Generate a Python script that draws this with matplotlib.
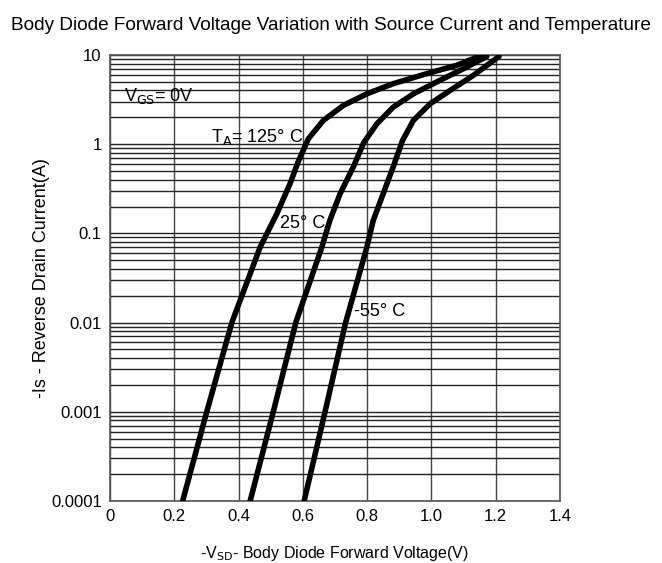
import numpy as np
import matplotlib.pyplot as plt
from matplotlib.ticker import FixedLocator, LogLocator, NullFormatter

plt.rcParams['font.family'] = ['Liberation Sans Narrow', 'Liberation Sans', 'DejaVu Sans']

# Curves: current (A) vs forward voltage (V)
i_125 = [0.0001, 0.001, 0.01, 0.07, 0.166, 0.36, 0.63, 1.15, 1.85, 2.72, 3.67, 4.77, 6.17, 7.66, 9.75]
v_125 = [0.226, 0.301, 0.379, 0.467, 0.519, 0.560, 0.585, 0.617, 0.664, 0.726, 0.799, 0.881, 0.985, 1.079, 1.151]
i_25 = [0.0001, 0.001, 0.01, 0.07, 0.14, 0.279, 0.556, 1.05, 1.69, 2.6, 3.67, 4.98, 7.0, 9.6]
v_25 = [0.436, 0.508, 0.578, 0.659, 0.684, 0.716, 0.757, 0.790, 0.830, 0.881, 0.944, 1.016, 1.099, 1.172]
i_m55 = [0.0001, 0.001, 0.01, 0.07, 0.14, 0.279, 0.556, 1.1, 1.85, 2.84, 4.0, 5.9, 9.6]
v_m55 = [0.604, 0.669, 0.733, 0.799, 0.819, 0.850, 0.881, 0.910, 0.944, 0.996, 1.058, 1.130, 1.210]

xticks = [0, 0.2, 0.4, 0.6, 0.8, 1.0, 1.2, 1.4]
xlabels = ['0', '0.2', '0.4', '0.6', '0.8', '1.0', '1.2', '1.4']
yticks = [0.0001, 0.001, 0.01, 0.1, 1, 10]
ylabels = ['0.0001', '0.001', '0.01', '0.1', '1', '10']

fig = plt.figure(figsize=(6.62, 5.63), dpi=100)
ax = fig.add_axes([110 / 662, 1 - 501 / 563, 450 / 662, 446 / 563])

for v, i in ((v_125, i_125), (v_25, i_25), (v_m55, i_m55)):
    ax.plot(v, i, color='black', lw=4, solid_capstyle='round',
            solid_joinstyle='round', zorder=3)

ax.set_yscale('log')
ax.set_xlim(0, 1.4)
ax.set_ylim(0.0001, 10)
ax.xaxis.set_major_locator(FixedLocator(xticks))
ax.set_xticklabels(xlabels)
ax.yaxis.set_major_locator(FixedLocator(yticks))
ax.set_yticklabels(ylabels)
ax.yaxis.set_minor_locator(LogLocator(base=10, subs=np.arange(2, 10)))
ax.yaxis.set_minor_formatter(NullFormatter())
ax.tick_params(which='both', length=0, labelsize=12, pad=6)

ax.grid(True, axis='x', color='#444444', lw=1)
ax.grid(True, axis='y', which='both', color='#222222', lw=1)
for s in ax.spines.values():
    s.set_color('#555555')
    s.set_linewidth(1.2)

ax.text(0.045, 3.5, r'V$_{\rm GS}$= 0V', fontsize=13, va='center')
ax.text(0.315, 1.2, r'T$_{\rm A}$= 125° C', fontsize=13, va='center')
ax.text(0.53, 0.13, '25° C', fontsize=13, va='center')
ax.text(0.76, 0.0133, '-55° C', fontsize=13, va='center')

ax.set_xlabel(r'-V$_{\rm SD}$- Body Diode Forward Voltage(V)', fontsize=11.5, labelpad=14)
ax.set_ylabel('-Is - Reverse Drain Current(A)', fontsize=13, labelpad=1)
fig.text(0.5, 1 - 25 / 563, 'Body Diode Forward Voltage Variation with Source Current and Temperature',
         ha='center', va='center', fontsize=13.7)

plt.savefig('out.png', dpi=100)
